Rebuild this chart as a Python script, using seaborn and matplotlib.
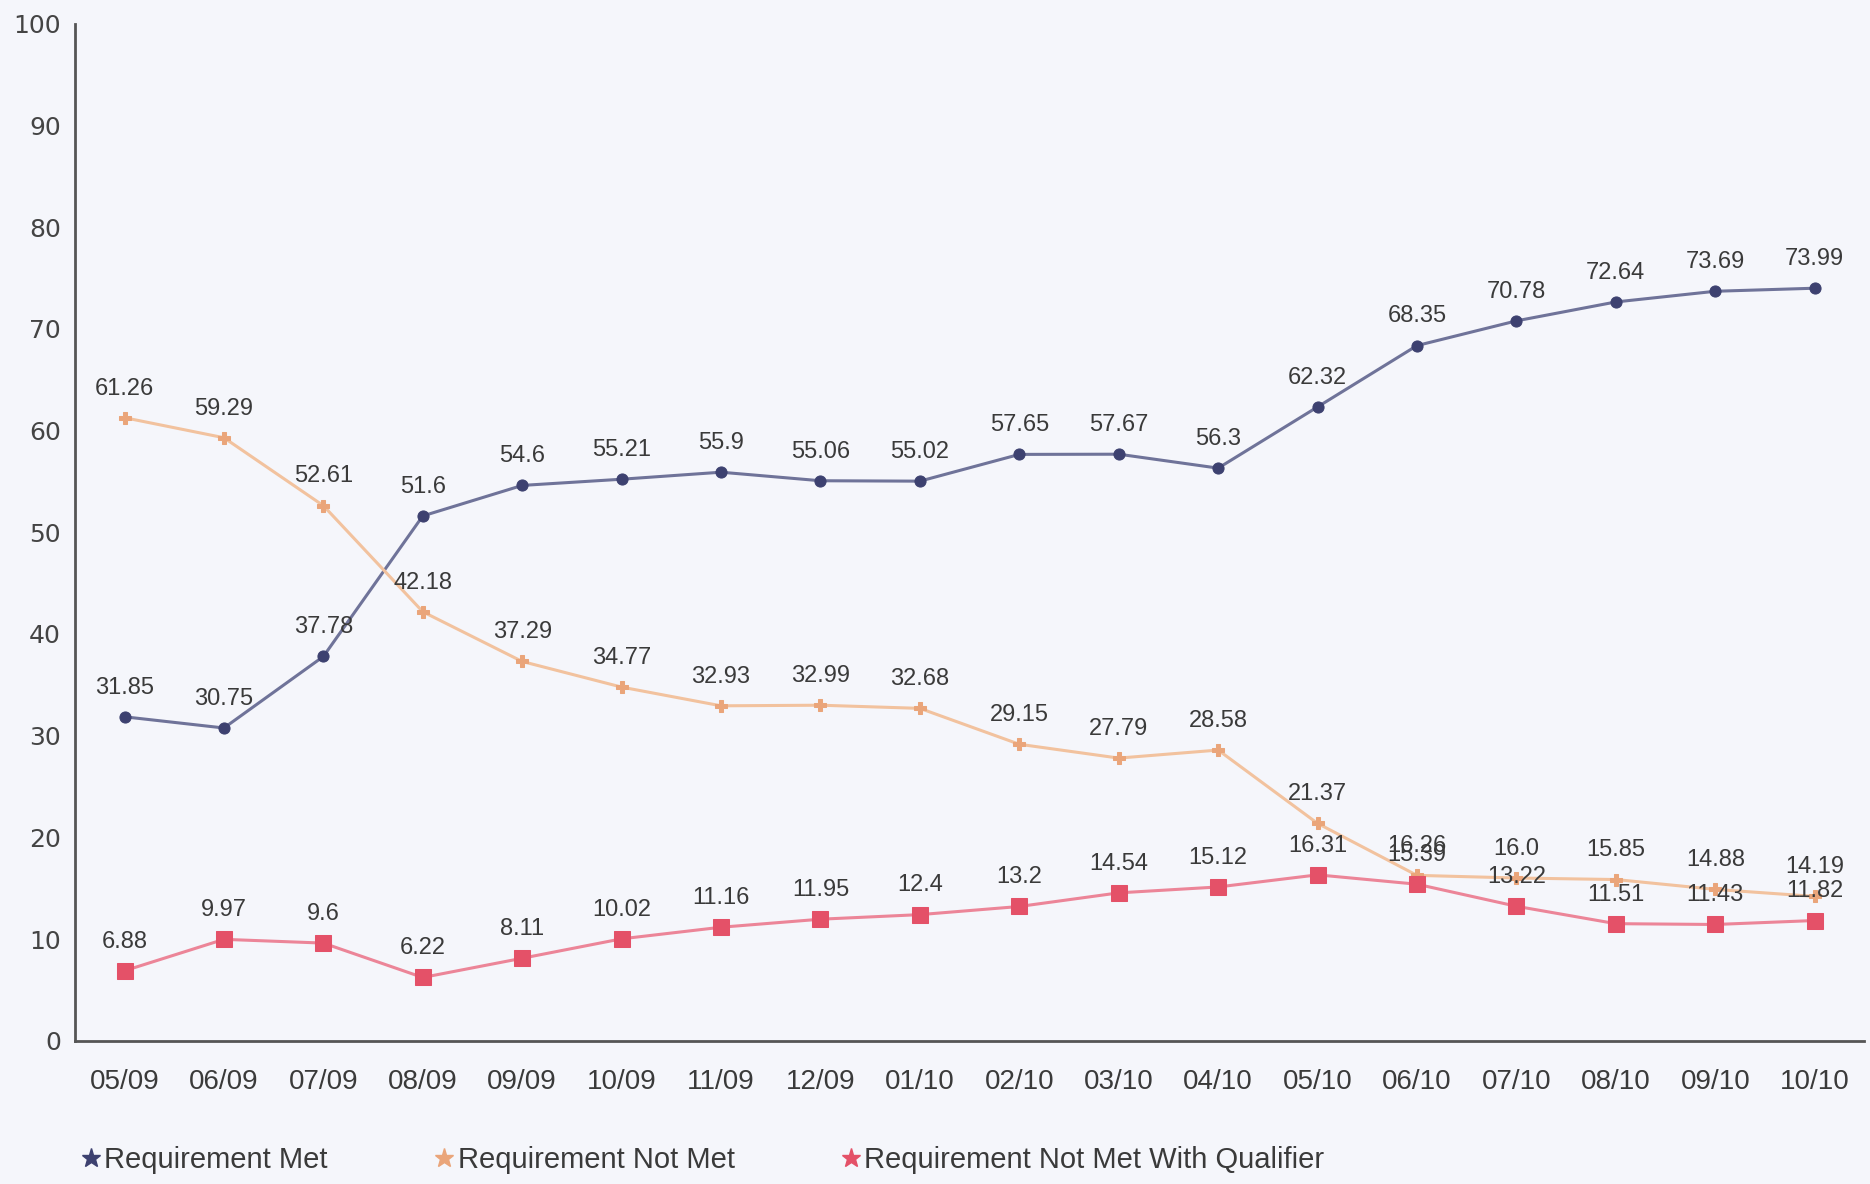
import matplotlib
matplotlib.use("Agg")
import matplotlib.pyplot as plt
from matplotlib.lines import Line2D
from matplotlib.ticker import FixedLocator, NullFormatter
import seaborn as sns
import pandas as pd

months = ["05/09", "06/09", "07/09", "08/09", "09/09", "10/09", "11/09", "12/09", "01/10",
          "02/10", "03/10", "04/10", "05/10", "06/10", "07/10", "08/10", "09/10", "10/10"]

req_met = [31.85, 30.75, 37.78, 51.6, 54.6, 55.21, 55.9, 55.06, 55.02,
           57.65, 57.67, 56.3, 62.32, 68.35, 70.78, 72.64, 73.69, 73.99]
req_not_met = [61.26, 59.29, 52.61, 42.18, 37.29, 34.77, 32.93, 32.99, 32.68,
               29.15, 27.79, 28.58, 21.37, 16.26, 16.0, 15.85, 14.88, 14.19]
req_not_met_qual = [6.88, 9.97, 9.6, 6.22, 8.11, 10.02, 11.16, 11.95, 12.4,
                    13.2, 14.54, 15.12, 16.31, 15.39, 13.22, 11.51, 11.43, 11.82]

series_names = ["Requirement Met", "Requirement Not Met", "Requirement Not Met With Qualifier"]
series_values = [req_met, req_not_met, req_not_met_qual]

line_colors = ["#6f7399", "#f2c29e", "#ec8598"]
marker_colors = ["#3d4170", "#eaa57a", "#e45168"]
markers = ["o", "P", "s"]
marker_sizes = [8, 8, 11]

sns.set_theme(style="white")
plt.rcParams["font.family"] = ["Liberation Sans", "DejaVu Sans"]

bg = "#f5f6fb"
fig = plt.figure(figsize=(18.7, 11.84), dpi=100, facecolor=bg)
ax = fig.add_axes([0.040, 0.121, 0.957, 0.859], facecolor=bg)

x_pos = list(range(len(months)))
for name, vals, lc, mc, mk, ms in zip(series_names, series_values, line_colors,
                                      marker_colors, markers, marker_sizes):
    df = pd.DataFrame({"x": x_pos, "y": vals})
    sns.lineplot(data=df, x="x", y="y", ax=ax, color=lc, linewidth=2.2,
                 marker=mk, markersize=ms, markerfacecolor=mc,
                 markeredgecolor=mc, legend=False)
    for xi, v in zip(x_pos, vals):
        ax.annotate(str(v), (xi, v), xytext=(0, 21), textcoords="offset points",
                    ha="center", va="center", fontsize=17, color="#3a3a3a")

ax.set_xlim(-0.5, len(months) - 0.5)
ax.set_ylim(0, 100)
ax.set_yticks(range(0, 101, 10))
ax.set_yticklabels([str(v) for v in range(0, 101, 10)], family="DejaVu Sans",
                   fontsize=18, color="#444444")
ax.set_xticks(x_pos)
ax.set_xticklabels(months, fontsize=20, color="#3a3a3a")
ax.xaxis.set_minor_locator(FixedLocator([i - 0.5 for i in range(len(months) + 1)]))
ax.xaxis.set_minor_formatter(NullFormatter())
ax.tick_params(axis="x", which="major", length=0, pad=20)
ax.tick_params(axis="x", which="minor", length=9, width=1.8, color="#555555", direction="out")
ax.tick_params(axis="y", length=9, width=1.8, color="#555555", direction="out", pad=1)
ax.set_xlabel("")
ax.set_ylabel("")

for side in ["top", "right"]:
    ax.spines[side].set_visible(False)
for side in ["left", "bottom"]:
    ax.spines[side].set_color("#555555")
    ax.spines[side].set_linewidth(2)

handles = [Line2D([], [], linestyle="none", marker="*", markersize=14,
                  color=mc) for mc in marker_colors]
fig.legend(handles, series_names, loc="lower left", bbox_to_anchor=(0.03, -0.014),
           ncol=3, frameon=False, fontsize=21, handlelength=0.6, handletextpad=0.15,
           columnspacing=3.7, labelcolor="#3a3a3a")

fig.savefig("out.png", dpi=100, facecolor=bg)
